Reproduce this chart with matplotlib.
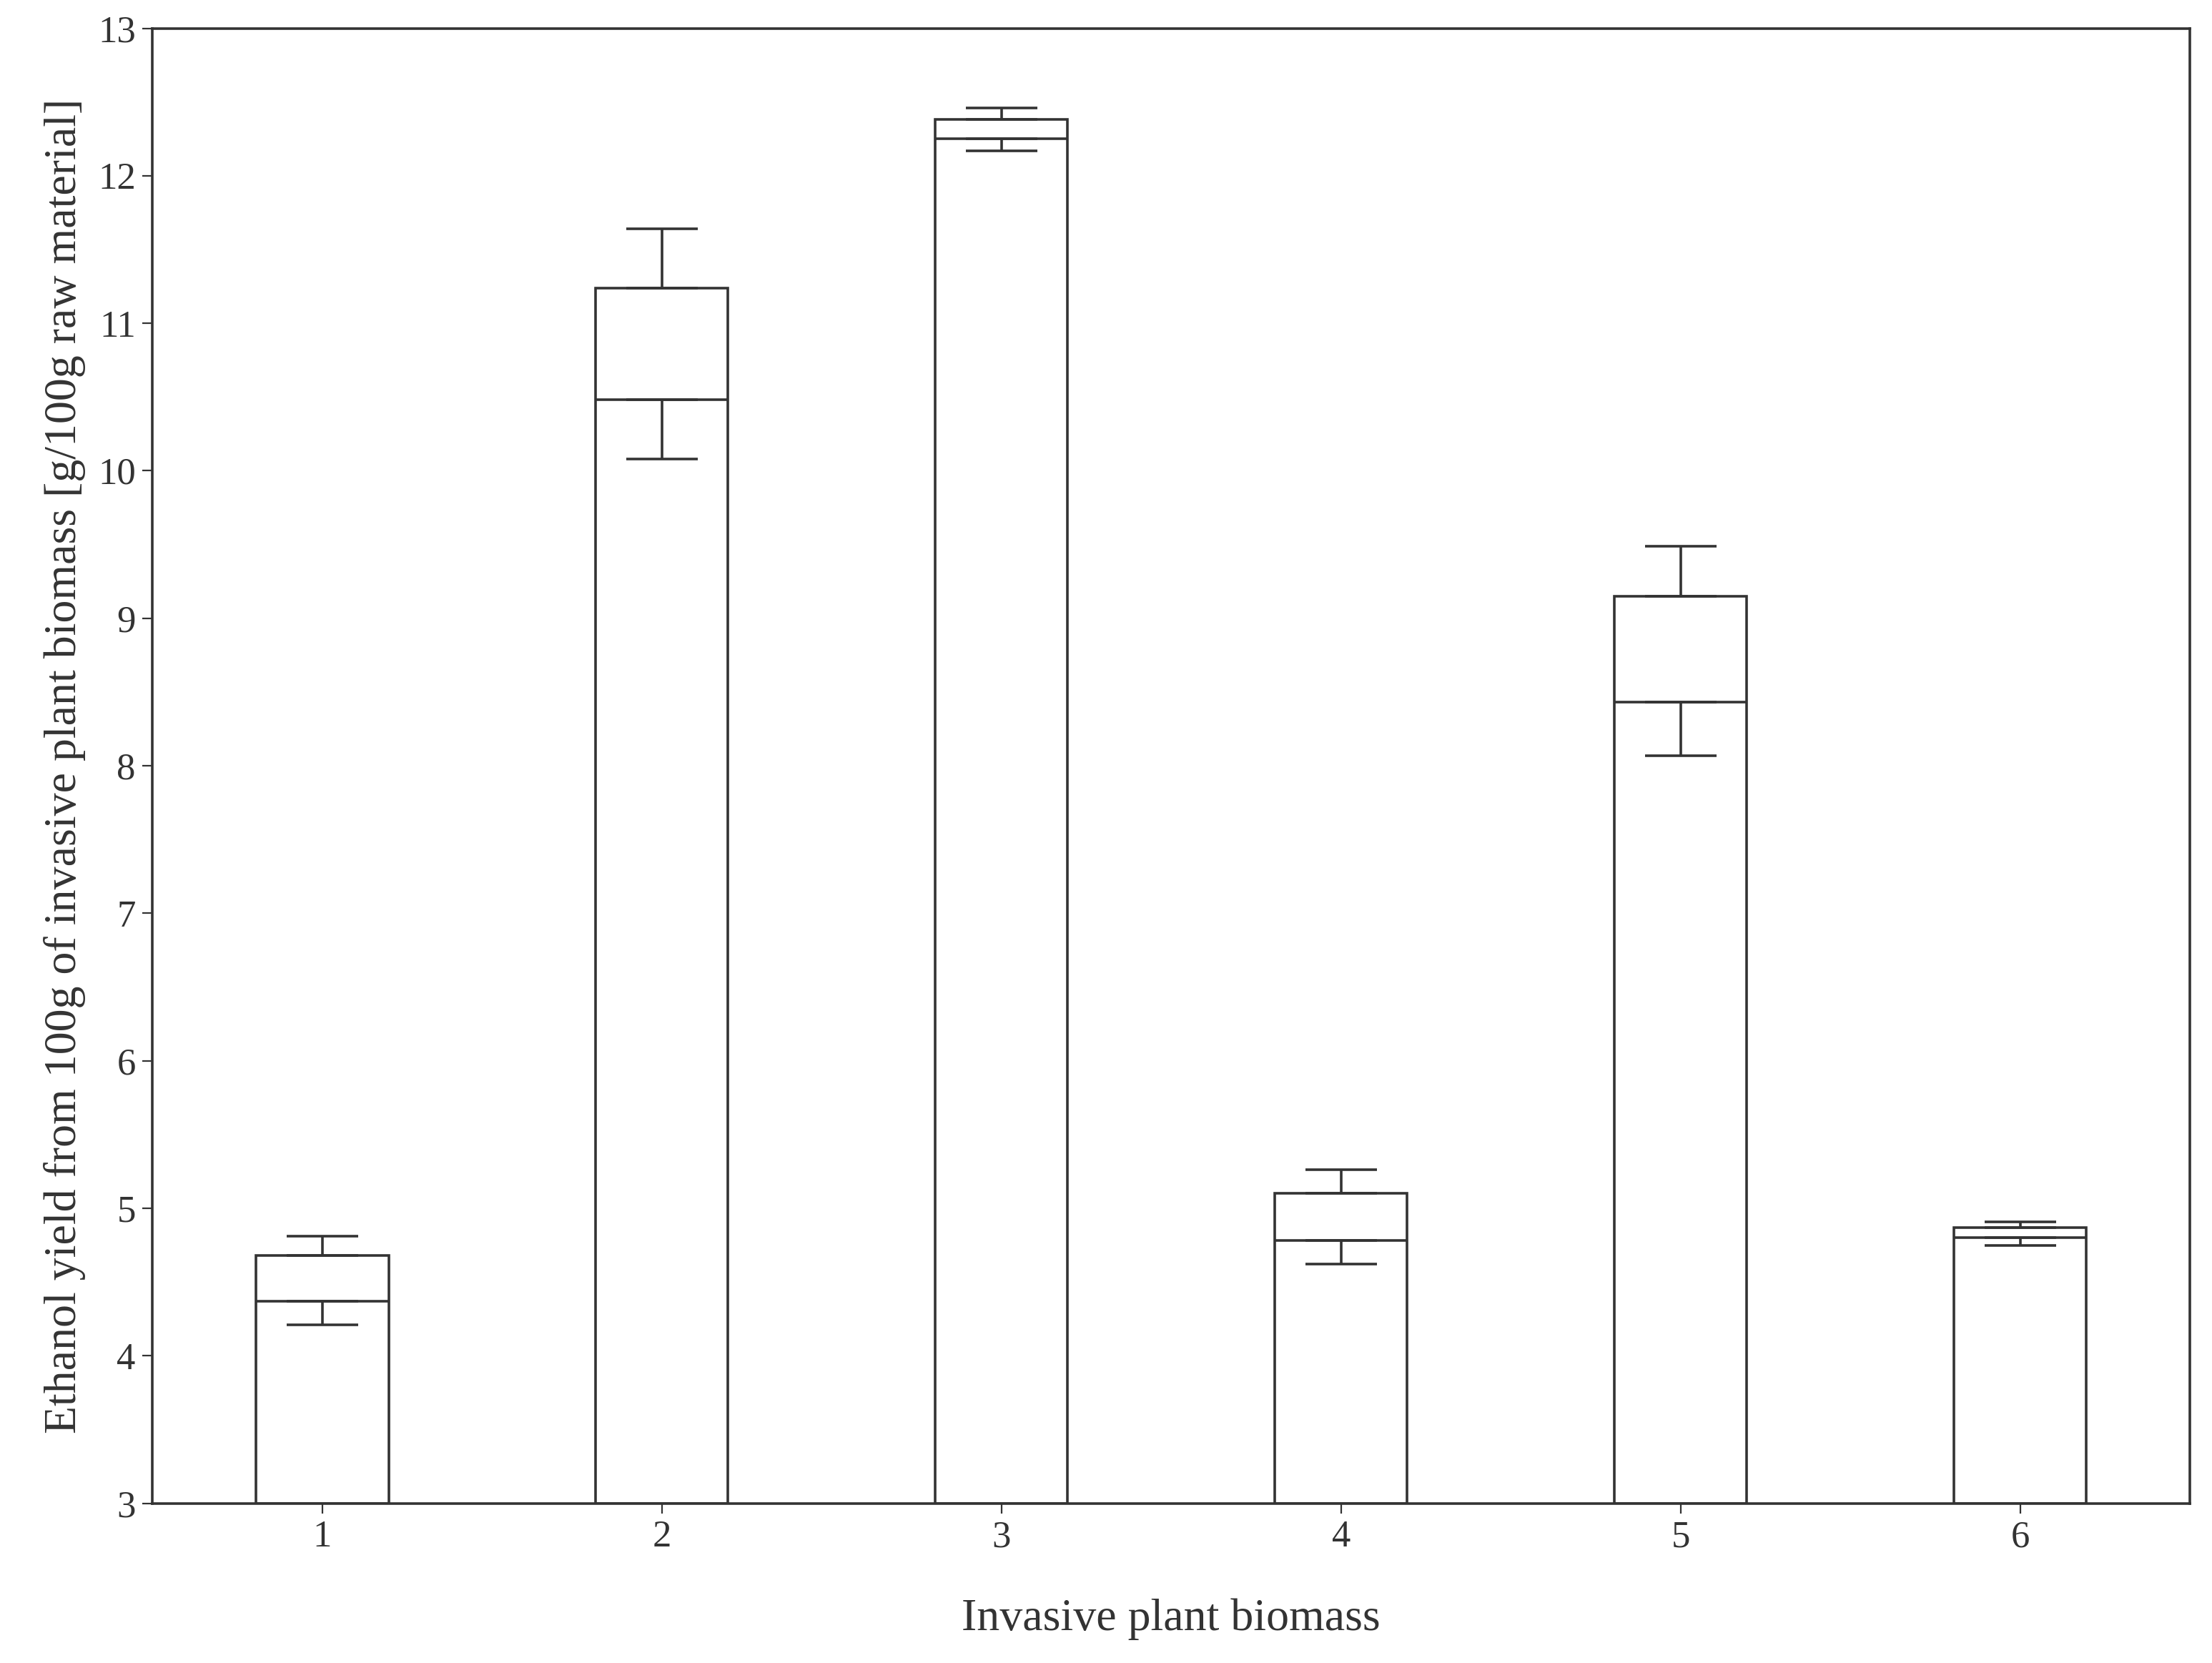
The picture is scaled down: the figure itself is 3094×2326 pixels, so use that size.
import matplotlib.pyplot as plt
import numpy as np

groups = [1, 2, 3, 4, 5, 6]
mean = [4.37, 10.48, 12.25, 4.78, 8.43, 4.80]
box_top = [4.68, 11.24, 12.38, 5.10, 9.15, 4.87]
whisk_hi = [4.81, 11.64, 12.46, 5.26, 9.49, 4.91]
whisk_lo = [4.21, 10.08, 12.17, 4.62, 8.07, 4.75]

plt.rcParams['font.family'] = ['Liberation Serif', 'DejaVu Serif']
fig = plt.figure(figsize=(15.47, 11.63), dpi=200)
ax = fig.add_axes([0.069, 0.096, 0.921, 0.887])

c = '#333333'
x = np.array(groups)
mean = np.array(mean); box_top = np.array(box_top)
ax.bar(x, box_top - 3, bottom=3, width=0.39, color='white', edgecolor=c, linewidth=1.3)
ax.hlines(mean, x - 0.195, x + 0.195, color=c, linewidth=1.3)
ax.errorbar(x, box_top, yerr=[np.zeros(6), np.array(whisk_hi) - box_top],
            fmt='none', ecolor=c, elinewidth=1.3, capsize=18, capthick=1.3)
ax.errorbar(x, mean, yerr=[mean - np.array(whisk_lo), np.zeros(6)],
            fmt='none', ecolor=c, elinewidth=1.3, capsize=18, capthick=1.3)

ax.set_xlim(0.5, 6.5)
ax.set_ylim(3, 13)
ax.set_xticks(groups)
ax.set_yticks(range(3, 14))
ax.tick_params(labelsize=19, colors=c, length=5)
for s in ax.spines.values():
    s.set_linewidth(1.3)
    s.set_color(c)
ax.set_xlabel('Invasive plant biomass', fontsize=23, color=c, labelpad=22)
ax.set_ylabel('Ethanol yield from 100g of invasive plant biomass [g/100g raw material]',
              fontsize=23, color=c, labelpad=6)

fig.savefig('out.png', dpi=200)
